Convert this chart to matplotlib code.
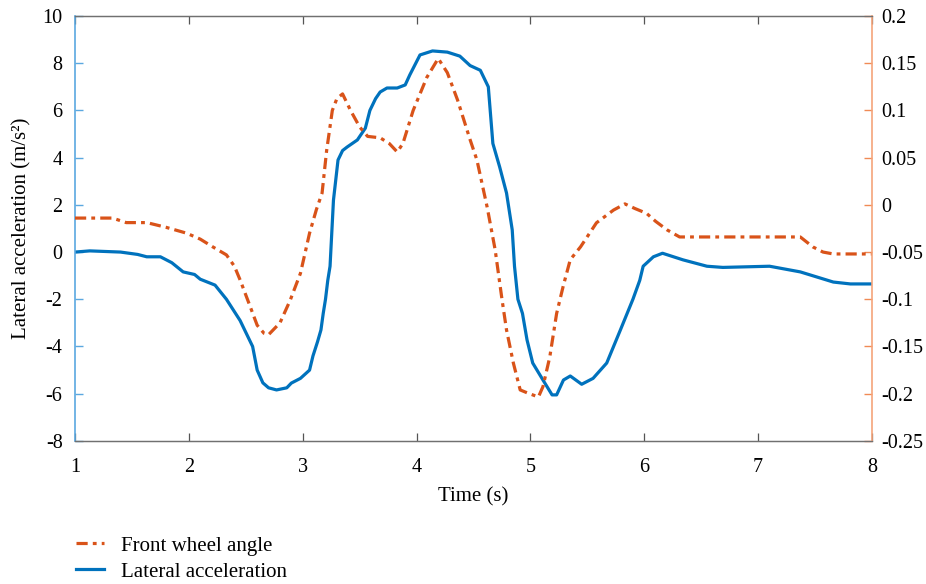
"""
Lateral acceleration and front wheel angle over time, two y axes
"""
import numpy as np
from matplotlib import pyplot as plt
from matplotlib.ticker import FuncFormatter

# lateral acceleration (m/s^2)
t_acc = [1.00, 1.13, 1.40, 1.55, 1.63, 1.75, 1.85, 1.95, 2.05, 2.10, 2.23, 2.33,
         2.45, 2.56, 2.60, 2.65, 2.70, 2.77, 2.86, 2.90, 2.98, 3.06, 3.09, 3.13,
         3.16, 3.18, 3.20, 3.22, 3.24, 3.27, 3.31, 3.35, 3.39, 3.48, 3.55, 3.59,
         3.64, 3.68, 3.74, 3.83, 3.90, 3.94, 4.03, 4.14, 4.27, 4.38, 4.47, 4.56,
         4.63, 4.67, 4.73, 4.79, 4.84, 4.86, 4.89, 4.93, 4.97, 5.02, 5.11, 5.19,
         5.23, 5.29, 5.35, 5.45, 5.55, 5.67, 5.79, 5.90, 5.96, 5.99, 6.08, 6.16,
         6.34, 6.55, 6.69, 7.10, 7.37, 7.66, 7.81, 8.00]
acc = [0.0, 0.05, 0.0, -0.1, -0.2, -0.2, -0.45, -0.84, -0.95, -1.15, -1.4, -2.0,
       -2.9, -4.0, -5.0, -5.54, -5.75, -5.84, -5.75, -5.55, -5.35, -5.0, -4.4, -3.8,
       -3.3, -2.6, -2.0, -1.2, -0.6, 2.2, 3.9, 4.3, 4.45, 4.75, 5.25, 6.0,
       6.5, 6.78, 6.95, 6.95, 7.08, 7.5, 8.35, 8.52, 8.47, 8.3, 7.9, 7.7,
       7.0, 4.6, 3.6, 2.5, 0.94, -0.6, -2.0, -2.6, -3.72, -4.7, -5.42, -6.05,
       -6.05, -5.42, -5.25, -5.6, -5.35, -4.7, -3.3, -2.0, -1.2, -0.6, -0.2, -0.05,
       -0.33, -0.6, -0.65, -0.6, -0.84, -1.27, -1.35, -1.35]

# front wheel angle (right axis)
t_ang = [1.00, 1.33, 1.45, 1.63, 1.80, 1.98, 2.10, 2.21, 2.33, 2.40, 2.45, 2.53,
         2.60, 2.66, 2.70, 2.80, 2.89, 2.98, 3.06, 3.12, 3.17, 3.21, 3.26, 3.30,
         3.35, 3.42, 3.50, 3.57, 3.68, 3.76, 3.83, 3.88, 3.97, 4.09, 4.19, 4.27,
         4.36, 4.47, 4.53, 4.62, 4.69, 4.75, 4.79, 4.85, 4.91, 4.97, 5.07, 5.11,
         5.17, 5.23, 5.29, 5.35, 5.44, 5.58, 5.73, 5.83, 5.92, 6.02, 6.10, 6.20,
         6.31, 7.37, 7.48, 7.57, 7.66, 8.00]
angle = [-0.014, -0.014, -0.0188, -0.0188, -0.0238, -0.030, -0.0363, -0.0445, -0.053, -0.065, -0.0795, -0.105,
         -0.1275, -0.136, -0.1375, -0.125, -0.101, -0.0725, -0.030, -0.005, 0.0125, 0.0575, 0.100, 0.1125,
         0.1175, 0.100, 0.0825, 0.0725, 0.071, 0.065, 0.056, 0.065, 0.100, 0.135, 0.155, 0.140,
         0.111, 0.069, 0.0475, -0.0025, -0.0475, -0.100, -0.1325, -0.1675, -0.196, -0.199, -0.2035, -0.1925,
         -0.161, -0.115, -0.085, -0.058, -0.0445, -0.019, -0.0055, 0.001, -0.004, -0.009, -0.0175, -0.0265,
         -0.034, -0.034, -0.0445, -0.050, -0.052, -0.052]

x_ticks = [1, 2, 3, 4, 5, 6, 7, 8]
left_ticks = [-8, -6, -4, -2, 0, 2, 4, 6, 8, 10]
right_ticks = [-0.25, -0.2, -0.15, -0.1, -0.05, 0, 0.05, 0.1, 0.15, 0.2]

BLUE = '#0072BD'
ORANGE = '#D95319'

plt.rcParams['font.family'] = ['Liberation Serif', 'DejaVu Serif']
plt.rcParams['axes.unicode_minus'] = False
plt.rcParams['font.size'] = 14.5


def main():
    fig = plt.figure(figsize=(9.26, 5.84), dpi=100)
    ax = fig.add_axes([0.081, 0.245, 0.8607, 0.7276])
    ax2 = ax.twinx()

    l_acc, = ax.plot(t_acc, acc, color=BLUE, lw=2.3, label='Lateral acceleration')
    l_ang, = ax2.plot(t_ang, angle, color=ORANGE, lw=2.3, dashes=(3.5, 1.6, 1.2, 1.6),
                      label='Front wheel angle')

    ax.set_xlim(1, 8)
    ax.set_ylim(-8, 10)
    ax2.set_ylim(-0.25, 0.2)
    ax.set_xticks(x_ticks)
    ax.set_yticks(left_ticks)
    ax2.set_yticks(right_ticks)
    ax2.yaxis.set_major_formatter(FuncFormatter(lambda v, p: '{:g}'.format(round(v, 2))))

    # MATLAB-like box: gray top/bottom, coloured y spines
    for a in (ax, ax2):
        for s in ('top', 'bottom'):
            a.spines[s].set_color('#707070')
            a.spines[s].set_linewidth(0.9)
    ax.spines['left'].set_color('#5BA8E0')
    ax.spines['left'].set_linewidth(1.2)
    ax2.spines['right'].set_color('#F5A47A')
    ax2.spines['right'].set_linewidth(1.2)
    ax.spines['right'].set_visible(False)
    ax2.spines['left'].set_visible(False)

    ax.tick_params(axis='x', direction='in', length=6, width=0.9, color='#555555',
                   top=True, pad=12, labelsize=14.5)
    ax.tick_params(axis='y', direction='in', length=6, width=1, color='#5BA8E0',
                   pad=9, labelsize=14.5)
    ax2.tick_params(axis='y', direction='in', length=6, width=1, color='#F08A55',
                    pad=7, labelsize=14.5)

    ax.set_xlabel('Time (s)', fontsize=15, labelpad=8)
    ax.set_ylabel('Lateral acceleration (m/s²)', fontsize=15, labelpad=8)

    fig.legend(handles=[l_ang, l_acc], loc='lower left', bbox_to_anchor=(0.062, -0.028),
               frameon=False, fontsize=15, handlelength=1.35, handletextpad=0.8,
               labelspacing=0.3)

    fig.savefig('out.png', dpi=100)


if __name__ == "__main__":
    main()
